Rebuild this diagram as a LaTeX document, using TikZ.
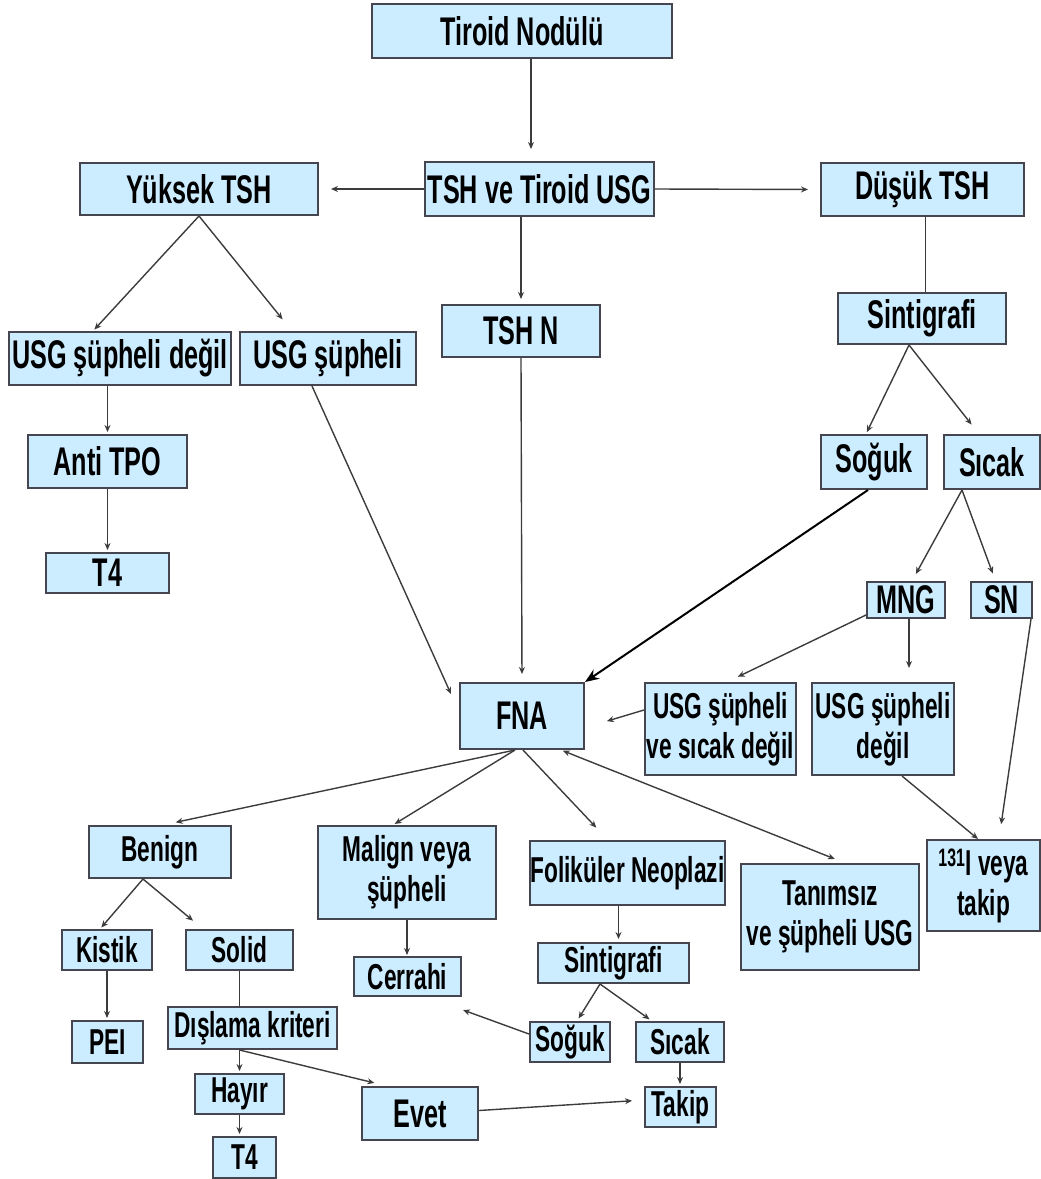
\documentclass[tikz,border=0pt]{standalone}
\usepackage{fontspec}
\setmainfont{Liberation Sans}[FakeStretch=0.63]
\usepackage{tikz}
\usetikzlibrary{arrows.meta,shapes,positioning}
\usepackage{xcolor}
\definecolor{boxblue}{RGB}{204,236,255}
\definecolor{boxline}{RGB}{70,70,80}
\definecolor{lineclr}{RGB}{60,60,60}
\newcommand{\bigtxt}{\fontsize{40}{42}\selectfont\bfseries}
\newcommand{\smalltxt}{\fontsize{36}{40}\selectfont\bfseries}
\tikzstyle{box} = [draw=boxline, fill=boxblue, line width=2pt, inner sep=0pt, align=center, font=\bigtxt]
\tikzstyle{sbox} = [box, font=\smalltxt]
\tikzstyle{arrow} = [line width=1.4pt, color=lineclr, -{Stealth[length=7pt,width=6pt]}]
\tikzstyle{link} = [line width=1.4pt, color=lineclr]
\tikzstyle{bigarrow} = [line width=2pt, black, -{Stealth[length=14pt,width=11pt]}]

\begin{document}
\begin{tikzpicture}[x=1pt, y=-1pt]
\useasboundingbox (0,0) rectangle (1041,1179);

% Top levels
\node[box, minimum width=300, minimum height=54] (nodulu) at (522,31) {Tiroid Nodülü};
\node[box, minimum width=229, minimum height=54] (tshusg) at (539.5,189) {TSH ve Tiroid USG};
\node[box, minimum width=238, minimum height=52] (yuksek) at (199,189) {Yüksek TSH};
\node[box, minimum width=203, minimum height=53] (dusuk) at (922.5,189.5) {Düşük TSH};
\node[box, minimum width=158, minimum height=52] (tshn) at (521,331) {TSH N};

% High TSH branch
\node[box, minimum width=222, minimum height=53] (usgdegil) at (120,358.5) {USG şüpheli değil};
\node[box, minimum width=176, minimum height=53] (usgsup) at (328,358.5) {USG şüpheli};
\node[box, minimum width=159, minimum height=53] (antitpo) at (107.5,461.5) {Anti TPO};
\node[box, minimum width=123, minimum height=40] (tdort) at (107.5,573) {T4};

% Low TSH branch
\node[box, minimum width=168, minimum height=51] (sintA) at (922,318.5) {Sintigrafi};
\node[box, minimum width=106, minimum height=54] (sogukA) at (874,462) {Soğuk};
\node[box, minimum width=96, minimum height=54] (sicakA) at (992,462) {Sıcak};
\node[box, minimum width=78, minimum height=36] (mng) at (906,600) {MNG};
\node[box, minimum width=61, minimum height=36] (sn) at (1001.5,600) {SN};
\node[sbox, minimum width=151, minimum height=92] (usgsicak) at (720.5,729) {USG şüpheli\\ve sıcak değil};
\node[sbox, minimum width=142, minimum height=92] (usgdegilB) at (883,729) {USG şüpheli\\değil};
\node[sbox, minimum width=113, minimum height=91] (iyot) at (983.5,885.5) {\textsuperscript{131}I veya\\takip};

% FNA and results
\node[box, minimum width=124, minimum height=66] (fna) at (522,716) {FNA};
\node[sbox, minimum width=142, minimum height=52] (benign) at (160,852) {Benign};
\node[sbox, minimum width=178, minimum height=93] (malign) at (407,872.5) {Malign veya\\şüpheli};
\node[sbox, minimum width=195, minimum height=64] (folik) at (627.5,873) {Foliküler Neoplazi};
\node[sbox, minimum width=178, minimum height=106] (tanimsiz) at (830,917) {Tanımsız\\ve şüpheli USG};

% Lower levels
\node[sbox, minimum width=90, minimum height=40] (kistik) at (107,950) {Kistik};
\node[sbox, minimum width=107, minimum height=40] (solid) at (239.5,950) {Solid};
\node[sbox, minimum width=107, minimum height=39] (cerrahi) at (407.5,976.5) {Cerrahi};
\node[sbox, minimum width=151, minimum height=40] (sintB) at (613.5,963) {Sintigrafi};
\node[sbox, minimum width=71, minimum height=42] (pei) at (107.5,1042) {PEI};
\node[sbox, minimum width=169, minimum height=42] (disla) at (252.5,1028) {Dışlama kriteri};
\node[sbox, minimum width=80, minimum height=40] (sogukB) at (570,1042) {Soğuk};
\node[sbox, minimum width=88, minimum height=40] (sicakB) at (680,1042) {Sıcak};
\node[sbox, minimum width=89, minimum height=40] (hayir) at (239.5,1094) {Hayır};
\node[box, minimum width=116, minimum height=53] (evet) at (420,1113.5) {Evet};
\node[sbox, minimum width=71, minimum height=40] (takip) at (680.5,1107) {Takip};
\node[sbox, minimum width=63, minimum height=41] (tdortB) at (244.5,1157.5) {T4};

% Connectors, upper part
\draw[arrow, shorten >=12pt] ([xshift=9]nodulu.south) -- ([xshift=9]nodulu.south |- tshusg.north);
\draw[arrow, shorten >=12pt] (tshusg.west) -- (yuksek.east);
\draw[arrow, shorten >=12pt] (tshusg.east) -- (dusuk.west);
\draw[arrow, shorten >=5pt] (tshusg.south -| tshn.north) -- (tshn.north);
\draw[arrow, shorten >=2pt] (yuksek.south) -- ([xshift=-27]usgdegil.north);
\draw[arrow, shorten >=15pt] (yuksek.south) -- ([xshift=-36]usgsup.north);
\draw[arrow, shorten >=2pt] (antitpo.north |- usgdegil.south) -- (antitpo.north);
\draw[arrow, shorten >=2pt] (antitpo.south) -- (tdort.north);
\draw[arrow] ([xshift=-16]usgsup.south) -- ([xshift=-8,yshift=-12]fna.north west);
\draw[arrow, shorten >=8pt] (tshn.south) -- (fna.north);

% Connectors, low TSH
\draw[link] ([xshift=3]dusuk.south) -- ([xshift=3]dusuk.south |- sintA.north);
\draw[arrow, shorten >=2pt] ([xshift=-13]sintA.south) -- ([xshift=-8]sogukA.north);
\draw[arrow, shorten >=12pt] ([xshift=-13]sintA.south) -- ([xshift=-13]sicakA.north);
\draw[arrow, shorten >=8pt] ([xshift=-30]sicakA.south) -- ([xshift=6]mng.north);
\draw[arrow, shorten >=8pt] ([xshift=-30]sicakA.south) -- ([xshift=-6]sn.north);
\draw[bigarrow] ([xshift=-6]sogukA.south) -- (fna.north east);
\draw[arrow, shorten >=12pt] ([yshift=4]mng.south west) -- ([xshift=6.5]usgsicak.north);
\draw[arrow, shorten >=14pt] ([xshift=3]mng.south) -- ([xshift=3]mng.south |- usgdegilB.north);
\draw[arrow, shorten >=3pt] ([yshift=19]usgsicak.west) -- ([xshift=19,yshift=-6]fna.east);
\draw[arrow, shorten >=15pt] ([xshift=-2]sn.south east) -- ([xshift=15.5]iyot.north);
\draw[arrow] ([xshift=19]usgdegilB.south) -- ([xshift=-5.5]iyot.north);

% Connectors, FNA results
\draw[arrow, shorten >=13pt] ([xshift=-7]fna.south) -- ([xshift=3]benign.north);
\draw[arrow, shorten >=2pt] ([xshift=-7]fna.south) -- ([xshift=-14]malign.north);
\draw[arrow, shorten >=17pt] ([xshift=1]fna.south) -- ([xshift=-19.5]folik.north);
\draw[arrow, {Stealth[length=7pt,width=6pt]}-{Stealth[length=7pt,width=6pt]}, shorten >=11pt, shorten <=2pt] ([xshift=-24]fna.south east) -- ([xshift=15]tanimsiz.north);
\draw[arrow, shorten >=2pt] ([xshift=-17]benign.south) -- ([xshift=-7]kistik.north);
\draw[arrow, shorten >=13pt] ([xshift=-17]benign.south) -- ([xshift=-36.5]solid.north);
\draw[arrow, shorten >=2pt] (kistik.south) -- (kistik.south |- pei.north);
\draw[link] (solid.south) -- (solid.south |- disla.north);
\draw[arrow, shorten >=2pt] (solid.south |- disla.south) -- (solid.south |- hayir.north);
\draw[arrow, shorten >=13pt] (solid.south |- disla.south) -- ([xshift=-33]evet.north);
\draw[arrow, shorten >=2pt] (hayir.south) -- (hayir.south |- tdortB.north);
\draw[arrow, shorten >=12pt] ([yshift=3]evet.east) -- ([yshift=7]takip.west);
\draw[arrow, shorten >=1pt] (malign.south) -- (malign.south |- cerrahi.north);
\draw[arrow, shorten >=3pt] ([xshift=5]sintB.north |- folik.south) -- ([xshift=5]sintB.north);
\draw[arrow, shorten >=3pt] ([xshift=-13.5]sintB.south) -- ([xshift=7]sogukB.north);
\draw[arrow, shorten >=3pt] ([xshift=-13.5]sintB.south) -- ([xshift=-28]sicakB.north);
\draw[arrow, shorten >=2pt] (sicakB.south) -- (sicakB.south |- takip.north);
\draw[arrow] ([yshift=8]sogukB.west) -- ([xshift=1,yshift=-13]cerrahi.south east);
\end{tikzpicture}
\end{document}
